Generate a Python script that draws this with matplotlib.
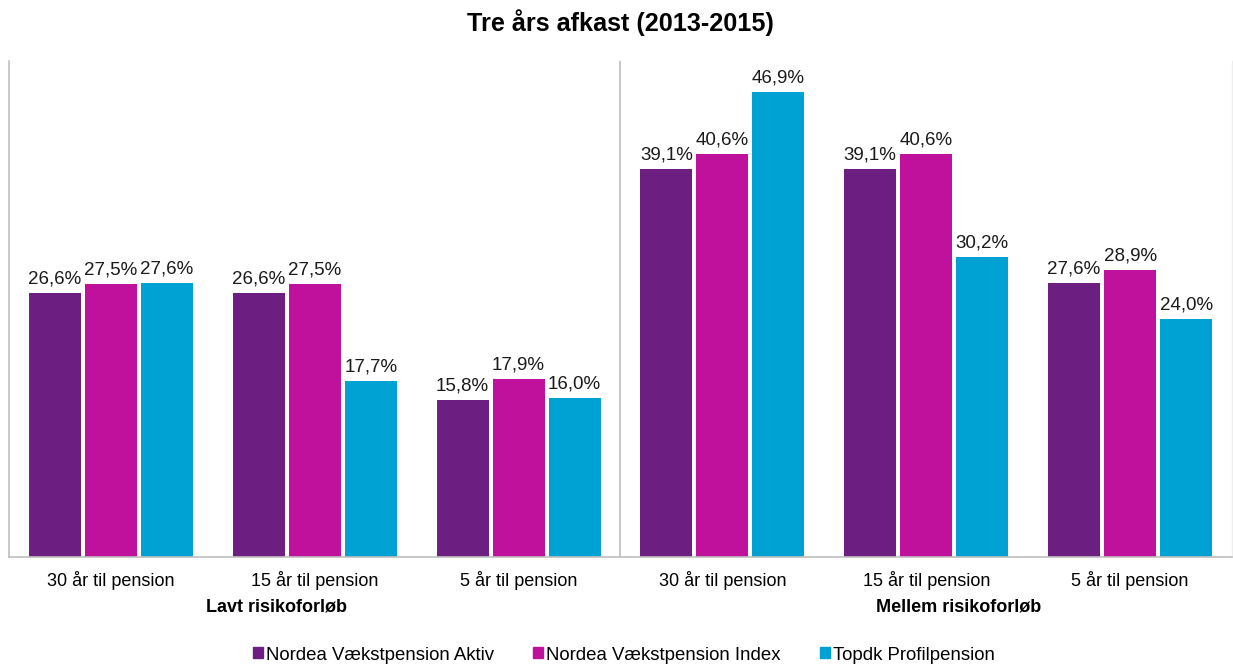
import matplotlib
matplotlib.use("Agg")
import matplotlib.pyplot as plt
import numpy as np

plt.rcParams['font.family'] = ['Liberation Sans', 'DejaVu Sans']

categories = ["30 år til pension", "15 år til pension", "5 år til pension",
              "30 år til pension", "15 år til pension", "5 år til pension"]
groups = ["Lavt risikoforløb", "Mellem risikoforløb"]
series_names = ["Nordea Vækstpension Aktiv", "Nordea Vækstpension Index", "Topdk Profilpension"]
aktiv = [26.6, 26.6, 15.8, 39.1, 39.1, 27.6]
index = [27.5, 27.5, 17.9, 40.6, 40.6, 28.9]
topdk = [27.6, 17.7, 16.0, 46.9, 30.2, 24.0]
colors = ["#6C1F80", "#C0119D", "#00A1D3"]

W, H = 1233, 665
fig = plt.figure(figsize=(W/100, H/100), dpi=100)
ax = fig.add_axes([9/W, 1-557/H, (1232-9)/W, (557-61)/H])

x = np.arange(len(categories))
offsets = [-0.275, 0.0, 0.275]
width = 0.255
for vals, off, c in zip([aktiv, index, topdk], offsets, colors):
    bars = ax.bar(x + off, vals, width, color=c)
    for b, v in zip(bars, vals):
        ax.annotate(f"{v:.1f}%".replace(".", ","), (b.get_x()+b.get_width()/2, v),
                    xytext=(0, 4), textcoords="offset points",
                    ha="center", va="bottom", fontsize=13.5, color="#1a1a1a")

ax.set_xlim(-0.5, 5.5)
ax.set_ylim(0, 50)
ax.set_yticks([])
ax.set_xticks(x)
ax.set_xticklabels(categories, fontsize=13)
ax.tick_params(axis='x', length=0, pad=10)
for s in ['left', 'bottom']:
    ax.spines[s].set_color("#BFBFBF")
    ax.spines[s].set_linewidth(1.2)
ax.spines['top'].set_visible(False)
ax.spines['right'].set_color("#EEEEEE")
ax.spines['right'].set_linewidth(1.0)
ax.axvline(2.5, color="#BFBFBF", lw=1.2)

# group labels (positioned as in the reference, slightly right of group centres)
group_x = [0.81, 4.16]
for gx, g in zip(group_x, groups):
    ax.text(gx, -(607-557)/(557-61), g, transform=ax.get_xaxis_transform(),
            ha="center", va="center", fontsize=13, fontweight="bold")

fig.text(0.5 + 4/W, 1-23/H, "Tre års afkast (2013-2015)", ha="center", va="center",
         fontsize=18.2, fontweight="bold")

from matplotlib.patches import Patch
handles = [Patch(color=c) for c in colors]
fig.legend(handles, series_names, loc="center", bbox_to_anchor=(624/W, 1-655/H), ncol=3,
           frameon=False, fontsize=13.4, handlelength=0.54, handleheight=0.54,
           handletextpad=0.17, columnspacing=2.1)

fig.savefig("out.png", dpi=100)
